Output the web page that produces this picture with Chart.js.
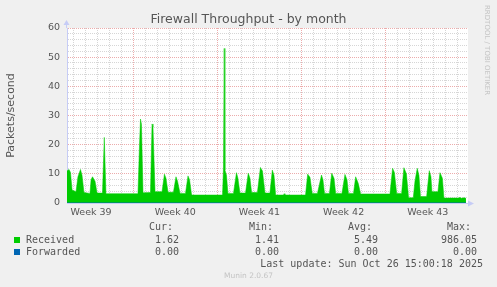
<!DOCTYPE html>
<html>
<head>
<meta charset="utf-8">
<script src="https://cdn.jsdelivr.net/npm/chart.js@4/dist/chart.umd.min.js"></script>
<style>
  html, body { margin: 0; padding: 0; background: #f0f0f0; }
  #wrap { position: relative; width: 497px; height: 287px; overflow: hidden; background: #f0f0f0; }
  #c { position: absolute; left: 0; top: 0; }
  .t { position: absolute; white-space: pre; color: #555; }
  .mono { font-family: "DejaVu Sans Mono", monospace; font-size: 10px; line-height: 12px; height: 12px; }
  .title { font-family: "DejaVu Sans", sans-serif; font-size: 12.5px; line-height: 14px; left: 0; width: 497px; text-align: center; top: 12px; }
  .sq { position: absolute; width: 6px; height: 6px; }
  .rrd { font-family: "DejaVu Sans", sans-serif; font-size: 7px; color: #c4c4c4; transform-origin: 0 0; transform: rotate(90deg); left: 491px; top: 5px; }
  .munin { font-family: "DejaVu Sans", sans-serif; font-size: 7.5px; color: #c4c4c4; left: 0; width: 497px; text-align: center; top: 271px; }
</style>
</head>
<body>
<div id="wrap">
  <canvas id="c" width="497" height="287"></canvas>
  <div class="t title">Firewall Throughput - by month</div>
  <div class="t rrd">RRDTOOL / TOBI OETIKER</div>
  <div id="legend"></div>
  <div class="t munin">Munin 2.0.67</div>
</div>
<script>
// ---- data (x = days since Mon 22 Sep 2025 00:00) ----
const days = [1.50,1.67,1.79,1.92,2.25,2.41,2.62,2.75,2.91,3.41,3.50,3.62,3.83,4.00,4.45,4.60,4.74,7.40,7.53,7.61,7.69,7.82,8.44,8.57,8.65,8.82,9.40,9.60,9.73,9.90,10.35,10.56,10.69,10.90,11.35,11.56,11.69,11.85,11.93,14.43,14.51,14.57,14.63,14.76,14.88,15.34,15.59,15.71,15.88,16.34,16.57,16.71,16.85,17.33,17.58,17.75,17.96,18.37,18.57,18.71,18.85,19.50,19.56,19.62,21.33,21.51,21.70,21.89,22.32,22.66,22.78,22.91,23.32,23.51,23.70,23.84,24.36,24.61,24.78,24.90,25.32,25.50,25.72,25.91,28.35,28.57,28.72,28.91,29.32,29.51,29.72,29.90,30.29,30.43,30.62,30.76,30.89,31.40,31.62,31.76,31.84,32.34,32.51,32.71,32.84,34.09,34.17,34.26,34.51,34.67];
const received = [11.0,11.5,10.5,4.5,3.9,9.0,11.5,9.5,3.6,3.3,8.0,9.0,7.5,3.4,3.4,22.5,3.2,3.2,20,28.8,27,3.5,3.6,27.1,26,3.9,3.9,9.9,8.5,3.7,3.7,9.0,7.5,3.3,3.3,9.3,8.0,3.0,2.74,2.74,12,53,11.3,9.5,3.3,3.3,10.4,8.5,3.4,3.4,10.2,8.5,3.6,3.6,12.2,11.0,3.4,3.4,11.3,9.5,2.74,2.74,3.2,2.74,2.74,9.9,8.8,3.3,3.3,9.6,8.0,3.3,3.3,10.2,8.5,3.3,3.3,9.8,8.0,3.3,3.3,9.0,6.7,3.1,3.1,11.9,10.5,3.3,3.3,12.1,10.0,1.8,1.8,7.5,11.9,9.5,2.2,2.2,11.1,9,3.9,3.9,10.4,8.5,1.7,1.7,2.0,1.6,1.8,1.6];
const forwarded = days.map(() => 0);
const weekLabels = ['Week 39','Week 40','Week 41','Week 42','Week 43'];
const yTickLabels = ['0','10','20','30','40','50','60'];
const seriesNames = ['Received','Forwarded'];
const statHeaders = ['Cur:','Min:','Avg:','Max:'];
const receivedStats = ['1.62','1.41','5.49','986.05'];
const forwardedStats = ['0.00','0.00','0.00','0.00'];
const lastUpdate = 'Last update: Sun Oct 26 15:00:18 2025';

// ---- styles ----
const GREEN = '#00cc00', BLUE = '#0066b3';
const AXIS = 'rgb(198,204,246)';
const MINOR = 'rgb(214,214,214)';
const MAJOR = 'rgb(236,172,172)';
const X_MIN = 1.5, X_MAX = 34.84;

// ---- legend (HTML text) ----
(function buildLegend() {
  const L = document.getElementById('legend');
  const add = (cls, txt, css) => { const d = document.createElement('div'); d.className = 't ' + cls; d.textContent = txt; Object.assign(d.style, css); L.appendChild(d); };
  const headLeft = [149, 249, 348, 447];
  const valRight = [179, 279, 378, 477];
  statHeaders.forEach((h, i) => add('mono', h, { left: headLeft[i] + 'px', top: '221px' }));
  const rows = [[seriesNames[0], receivedStats, GREEN, 234], [seriesNames[1], forwardedStats, BLUE, 246]];
  rows.forEach(([name, vals, col, top]) => {
    const sq = document.createElement('div'); sq.className = 'sq';
    Object.assign(sq.style, { left: '14px', top: (top + 3) + 'px', background: col }); L.appendChild(sq);
    add('mono', name, { left: '26px', top: top + 'px' });
    vals.forEach((v, i) => add('mono', v, { right: (497 - valRight[i]) + 'px', top: top + 'px' }));
  });
  add('mono', lastUpdate, { right: (497 - 483) + 'px', top: '258px' });
})();

// ---- plugins ----
const plotBg = {
  id: 'plotBg',
  beforeDraw(chart) {
    const { ctx, chartArea: a } = chart;
    ctx.save(); ctx.fillStyle = '#ffffff';
    ctx.fillRect(a.left, a.top, a.right - a.left, a.bottom - a.top);
    ctx.restore();
  }
};
const arrows = {
  id: 'arrows',
  afterDraw(chart) {
    const { ctx, chartArea: a } = chart;
    ctx.save();
    ctx.strokeStyle = AXIS; ctx.fillStyle = AXIS; ctx.lineWidth = 1;
    const x0 = Math.round(a.left) - 0.5, yb = Math.round(a.bottom) + 0.5;
    ctx.beginPath(); ctx.moveTo(x0, a.top); ctx.lineTo(x0, a.top - 5); ctx.stroke();
    ctx.beginPath(); ctx.moveTo(x0 - 3, a.top - 3); ctx.lineTo(x0 + 3, a.top - 3); ctx.lineTo(x0, a.top - 8); ctx.closePath(); ctx.fill();
    ctx.beginPath(); ctx.moveTo(a.right, yb); ctx.lineTo(a.right + 3, yb); ctx.stroke();
    ctx.beginPath(); ctx.moveTo(a.right, yb - 3); ctx.lineTo(a.right, yb + 3); ctx.lineTo(a.right + 6, yb); ctx.closePath(); ctx.fill();
    ctx.restore();
  }
};

new Chart(document.getElementById('c'), {
  type: 'line',
  data: {
    datasets: [
      {
        label: seriesNames[0],
        data: days.map((d, i) => ({ x: d, y: received[i] })),
        borderColor: GREEN, backgroundColor: GREEN, borderWidth: 0.5,
        fill: 'origin', pointRadius: 0, tension: 0, order: 2
      },
      {
        label: seriesNames[1],
        data: days.map((d, i) => ({ x: d, y: forwarded[i] })),
        borderColor: BLUE, backgroundColor: BLUE, borderWidth: 1,
        fill: false, pointRadius: 0, tension: 0, order: 1
      }
    ]
  },
  options: {
    responsive: false, animation: false, devicePixelRatio: 1,
    layout: { padding: { left: 0, top: 28, right: 29, bottom: 0 } },
    plugins: { legend: { display: false }, title: { display: false }, tooltip: { enabled: false } },
    scales: {
      x: {
        type: 'linear', min: X_MIN, max: X_MAX,
        afterBuildTicks(scale) {
          const t = [];
          for (let d = Math.ceil(X_MIN); d <= X_MAX; d++) t.push(d);
          weekLabels.forEach((_, i) => t.push(3.5 + 7 * i));
          t.sort((a, b) => a - b);
          scale.ticks = t.map(v => ({ value: v }));
        },
        afterFit(scale) { scale.height = 84; },
        grid: {
          drawTicks: false, lineWidth: 1,
          color: c => { const v = c.tick && c.tick.value; if (v == null) return 'transparent'; if (!Number.isInteger(v)) return 'transparent'; return v % 7 === 0 ? MAJOR : MINOR; },
          borderDash: [1, 1]
        },
        border: { display: true, color: AXIS, width: 1, dash: [1, 1] },
        ticks: {
          autoSkip: false, maxRotation: 0, padding: 4, color: '#555',
          font: { family: 'DejaVu Sans', size: 9.5 },
          callback: v => { const i = (v - 3.5) / 7; return Number.isInteger(i) && weekLabels[i] ? weekLabels[i] : ''; }
        }
      },
      y: {
        type: 'linear', min: 0, max: 60,
        afterBuildTicks(scale) {
          const t = []; for (let v = 0; v <= 60; v += 2) t.push({ value: v });
          scale.ticks = t;
        },
        afterFit(scale) { scale.width = 67; },
        grid: {
          drawTicks: false, lineWidth: 1,
          color: c => { const v = c.tick && c.tick.value; if (v == null) return 'transparent'; return v % 10 === 0 ? MAJOR : MINOR; },
          borderDash: [1, 1]
        },
        border: { display: true, color: AXIS, width: 1, dash: [1, 1] },
        title: { display: true, text: 'Packets/second', color: '#555', font: { family: 'DejaVu Sans', size: 11 }, padding: { top: 5, bottom: 0 } },
        ticks: {
          autoSkip: false, padding: 7, color: '#555',
          font: { family: 'DejaVu Sans', size: 9.5 },
          callback: v => (v % 10 === 0 ? yTickLabels[v / 10] : '')
        }
      }
    }
  },
  plugins: [plotBg, arrows]
});
</script>
</body>
</html>
